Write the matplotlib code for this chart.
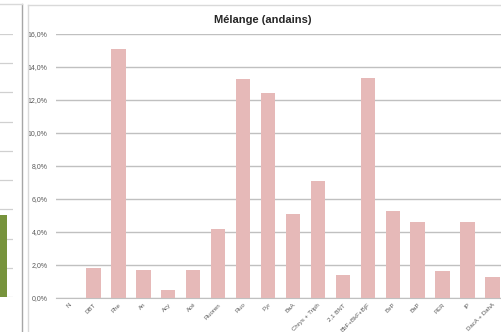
import matplotlib.pyplot as plt
from matplotlib.lines import Line2D
from matplotlib.ticker import FuncFormatter

# composés (part du total, en %)
composes = ['N', 'DBT', 'Phe', 'An', 'Acy', 'Acé', 'Fluoren', 'Fluo', 'Pyr',
            'BaA', 'Chrys + Triph', '2,1 BNT', 'BbF+BkF+BjF', 'BeP', 'BaP',
            'PER', 'IP', 'DacA + DahA']
melange = [0.0, 1.8, 15.1, 1.68, 0.47, 1.7, 4.18, 13.27, 12.4,
           5.1, 7.12, 1.42, 13.32, 5.25, 4.6, 1.65, 4.6, 1.3]

# graphique voisin (coupé à gauche)
voisin_cat = ['']
voisin_val = [2.8]

W, H = 502, 332
fig = plt.figure(figsize=(W / 100, H / 100), dpi=100)
plt.rcParams['font.family'] = ['Liberation Sans', 'DejaVu Sans']


def fx(px):
    return px / W


def fy(py):
    return 1 - py / H


grille = '#c0c0c0'
texte = '#595959'

# --- graphique voisin ---
axv = fig.add_axes([fx(-16.7), fy(297), fx(30), (297 - 34) / H])
axv.bar(range(len(voisin_cat)), voisin_val, width=0.6, color='#77933c', zorder=3)
axv.set_xlim(-0.5, 0.5)
axv.set_ylim(0, 9)
axv.set_yticks(range(10))
axv.grid(axis='y', color='#d0d0d0', lw=0.9)
axv.tick_params(length=0, labelleft=False, labelbottom=False)
for s in axv.spines.values():
    s.set_visible(False)

# --- graphique principal ---
ax = fig.add_axes([fx(56), fy(298), fx(505 - 56), (298 - 34) / H])
x = range(len(composes))
ax.bar(x, melange, width=0.58, color='#e6b9b8', zorder=3)
ax.set_xlim(-0.5, len(composes) - 0.5)
ax.set_ylim(0, 16)
ax.set_yticks(range(0, 17, 2))
ax.yaxis.set_major_formatter(FuncFormatter(lambda v, p: ('%.1f%%' % v).replace('.', ',')))
ax.grid(axis='y', color=grille, lw=1, zorder=0)
ax.set_xticks(list(x))
ax.set_xticklabels(composes, rotation=45, ha='right', rotation_mode='anchor')
ax.tick_params(axis='y', length=0, labelsize=5, labelcolor=texte, pad=6)
ax.tick_params(axis='x', length=0, labelsize=4.4, labelcolor=texte, pad=3)
for s in ['top', 'right', 'left']:
    ax.spines[s].set_visible(False)
ax.spines['bottom'].set_color(grille)

fig.text(fx(263), fy(20), 'Mélange (andains)', ha='center', va='center',
         fontsize=8, fontweight='bold', color='#262626')

# cadres
fig.add_artist(Line2D([fx(22), fx(22)], [0, fy(4)], color='#a6a6a6', lw=1))
fig.add_artist(Line2D([0, fx(22)], [fy(4), fy(4)], color='#d9d9d9', lw=1))
fig.add_artist(Line2D([fx(28.5), fx(28.5)], [0, fy(5)], color='#d9d9d9', lw=1))
fig.add_artist(Line2D([fx(28.5), 1], [fy(5), fy(5)], color='#d9d9d9', lw=1))

fig.savefig('out.png', dpi=100)
